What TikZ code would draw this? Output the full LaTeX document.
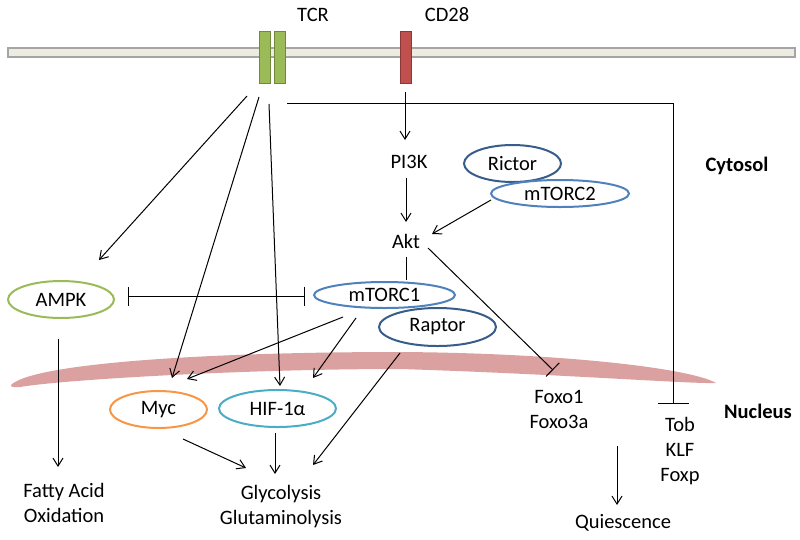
\documentclass[tikz,border=0pt]{standalone}
\usepackage{fontspec}
\setmainfont{Carlito}
\usetikzlibrary{shapes.geometric}
\usetikzlibrary{arrows.meta}
\usetikzlibrary{calc}
\definecolor{GREEN}{HTML}{9BBB59}
\definecolor{GREEN_E}{HTML}{71893F}
\definecolor{RED}{HTML}{C0504D}
\definecolor{RED_E}{HTML}{8C3836}
\definecolor{BLUE}{HTML}{4F81BD}
\definecolor{BLUE_E}{HTML}{385D8A}
\definecolor{ORANGE}{HTML}{F79646}
\definecolor{CYAN}{HTML}{4BACC6}
\definecolor{PINK}{RGB}{219,160,160}
\definecolor{MEMB}{HTML}{EEECE1}
\definecolor{MEMB_E}{HTML}{A5A5A5}
\tikzset{
	every node/.style = {font=\fontsize{20.5}{25}\selectfont}
}

\begin{document}
\begin{tikzpicture}[x=1pt, y=-1pt,
		prot/.style={ellipse, draw, line width=2pt, inner sep=0pt, outer sep=0pt},
		txt/.style={inner sep=0pt, outer sep=0pt, anchor=base, align=center},
		chan/.style={rectangle, draw, line width=1pt, inner sep=0pt, minimum width=11pt, minimum height=52pt},
		arr/.style={-{Straight Barb[length=8pt,width=10pt]}, line width=1pt},
		inh/.style={-{Bar[width=19pt]}, line width=1pt}]
		\useasboundingbox (0,0) rectangle (800,539);
		% nuclear envelope
		\fill[PINK] (12,384) .. controls (40,362) and (220,352) .. (400,352)
		      .. controls (560,353) and (690,368) .. (716,383)
		      .. controls (690,384) and (560,374) .. (400,369)
		      .. controls (240,369) and (60,380) .. (20,387)
		      .. controls (12,388) and (9,386) .. (12,384) -- cycle;
		% plasma membrane
		\draw[fill=MEMB, draw=MEMB_E, line width=1.5pt] (8,48) rectangle (795,57);
		\node[chan, fill=GREEN, draw=GREEN_E] (tcrA) at (264.5,57) {};
		\node[chan, fill=GREEN, draw=GREEN_E] (tcrB) at (279.5,57) {};
		\coordinate (tcr) at (272,57);
		\node[chan, fill=RED, draw=RED_E] (cd28) at (405.5,57) {};
		\node[txt] (tcrlbl) at (313,21) {TCR};
		\node[txt] (cd28lbl) at (447,21) {CD28};
		% compartments
		\node[txt, font=\fontsize{20.5}{25}\selectfont\bfseries] (cytosol) at (737,171) {Cytosol};
		\node[txt, font=\fontsize{20.5}{25}\selectfont\bfseries] (nucleus) at (758,418) {Nucleus};
		% proteins
		\node[prot, draw=GREEN, minimum width=106pt, minimum height=37pt] (ampk) at (61,299.5) {AMPK};
		\node[prot, draw=BLUE, minimum width=141pt, minimum height=26pt] (mtorc1) at (384.5,295) {mTORC1};
		\node[prot, draw=BLUE_E, minimum width=117pt, minimum height=38pt] (raptor) at (437.5,327) {Raptor};
		\node[prot, draw=BLUE_E, minimum width=97pt, minimum height=37pt] (rictor) at (512.5,163.5) {Rictor};
		\node[prot, draw=BLUE, minimum width=138pt, minimum height=27pt] (mtorc2) at (560,193.5) {mTORC2};
		\node[prot, draw=ORANGE, minimum width=97pt, minimum height=37pt] (myc) at (158.5,409.5) {Myc};
		\node[prot, draw=CYAN, minimum width=117pt, minimum height=37pt] (hif) at (277.5,408.5) {HIF-1α};
		\node[txt] (pi3k) at (409,168) {PI3K};
		\node[txt] (akt) at (406,248) {Akt};
		% multi-line labels sit on their last line
		\node[txt] (foxo) at (559,428) {Foxo1\\Foxo3a};
		\node[txt] (tob) at (680,481) {Tob\\KLF\\Foxp};
		\node[txt] (quies) at (623,528) {Quiescence};
		\node[txt] (fao) at (64,522) {Fatty Acid\\Oxidation};
		\node[txt] (glyc) at (281,524) {Glycolysis\\Glutaminolysis};
		% TCR signals
		\draw[arr] ($(tcrB)+(-32.5,39)$) -- ($(ampk)+(38,-39.5)$);
		\draw[arr] ($(tcr)+(-13,40)$) -- ($(myc)+(13.5,-31.5)$);
		\draw[arr] ($(tcrA)+(4.5,47)$) -- ($(hif)+(2.5,-22.5)$);
		\draw[line width=1pt, -{Bar[width=31pt]}] ($(tcrB)+(7.5,46)$) -| ($(tob.base)+(-7,-77)$);
		% CD28 / PI3K / Akt
		\draw[arr] ($(cd28)+(-0.5,35)$) -- ($(pi3k.base)+(-4,-28)$);
		\draw[arr] ($(pi3k.base)+(-3,10)$) -- ($(akt.base)+(0,-26)$);
		\draw[arr] ($(mtorc2)+(-69,6.5)$) -- ($(akt.base)+(26,-14)$);
		\draw[line width=1pt] ($(akt.base)+(0,9)$) -- ($(mtorc1)+(21.5,-15)$);
		\draw[inh] ($(akt.base)+(22,0)$) -- ($(foxo.base)+(-6,-58)$);
		\draw[{Bar[width=19pt]}-{Bar[width=19pt]}, line width=1pt] ($(ampk)+(67,-3.5)$) -- ($(mtorc1)+(-79.5,1)$);
		% mTORC1 targets
		\draw[arr] ($(mtorc1)+(-41.5,22)$) -- ($(myc)+(28.5,-30.5)$);
		\draw[arr] ($(mtorc1)+(-28.5,23)$) -- ($(hif)+(35.5,-30.5)$);
		\draw[arr] ($(raptor)+(-37.5,26)$) -- ($(glyc.base)+(32,-59)$);
		% metabolism
		\draw[arr] ($(hif)+(-2.5,24.5)$) -- ($(glyc.base)+(-6,-50)$);
		\draw[arr] ($(myc)+(24.5,29.5)$) -- ($(glyc.base)+(-35,-56)$);
		\draw[arr] ($(ampk)+(-3,39.5)$) -- ($(fao.base)+(-6,-55)$);
		\draw[arr] ($(foxo.base)+(58,18)$) -- ($(quies.base)+(-6,-23)$);
	\end{tikzpicture}
\end{document}
